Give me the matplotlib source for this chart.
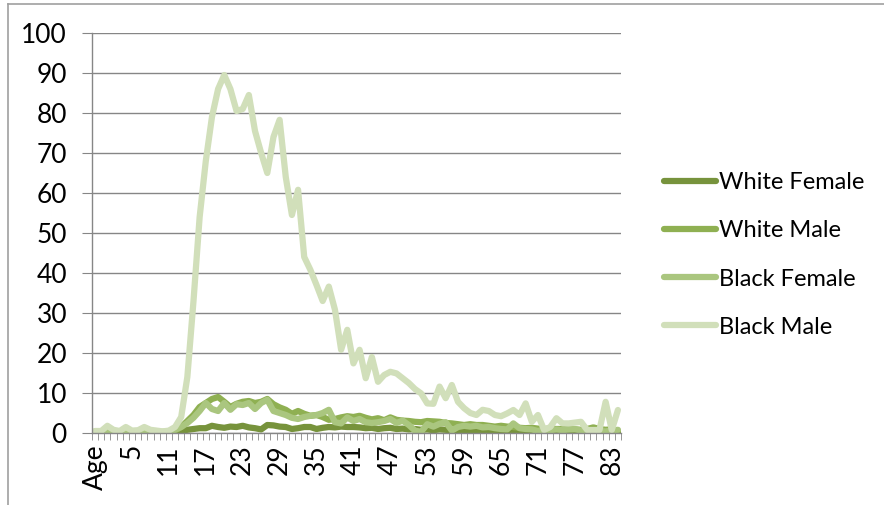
import numpy as np
from matplotlib import pyplot as plt
from matplotlib.lines import Line2D

plt.rcParams["font.family"] = ["Lato", "DejaVu Sans"]

# categories: the "Age" header row followed by ages 0..84
categories = ["Age"] + [str(a) for a in range(85)]

white_female = [0.2, 0.0, 0.1, 0.0, 0.2, 0.0, 0.1, 0.0, 0.1, 0.0, 0.2, 0.1, 0.2,
                0.3, 0.5, 0.8, 1.0, 1.2, 1.2, 1.8, 1.5, 1.3, 1.6, 1.5, 1.8, 1.4,
                1.2, 0.9, 2.0, 1.9, 1.6, 1.5, 1.0, 1.2, 1.5, 1.5, 1.0, 1.3, 1.5,
                1.4, 1.6, 1.5, 1.5, 1.4, 1.2, 1.3, 1.0, 1.2, 1.3, 1.0, 1.1, 0.9,
                1.0, 0.8, 0.9, 0.7, 0.9, 0.8, 0.6, 0.8, 0.6, 0.7, 0.5, 0.6, 0.5,
                0.6, 0.4, 0.5, 0.4, 0.5, 0.3, 0.4, 0.3, 0.4, 0.3, 0.3, 0.4, 0.3,
                0.2, 0.3, 0.2, 0.3, 0.2, 0.3, 0.2, 0.2]

white_male = [0.2, 0.1, 0.3, 0.2, 0.1, 0.3, 0.2, 0.1, 0.2, 0.3, 0.2, 0.2, 0.3,
              0.6, 1.5, 3.0, 4.5, 6.5, 7.5, 8.5, 9.0, 7.8, 6.5, 7.3, 7.8, 8.0,
              7.5, 7.8, 8.5, 7.2, 6.4, 5.8, 4.8, 5.5, 4.8, 4.3, 4.5, 4.0, 3.3,
              3.5, 3.9, 4.2, 4.0, 4.3, 3.8, 3.4, 3.7, 3.2, 3.9, 3.3, 3.1, 3.0,
              2.8, 2.7, 3.0, 2.9, 2.8, 2.5, 2.4, 2.2, 2.0, 2.2, 2.0, 2.0, 1.8,
              1.6, 1.8, 1.6, 1.5, 1.3, 1.2, 1.3, 1.1, 1.0, 1.1, 1.0, 1.0, 0.9,
              0.9, 0.8, 1.0, 1.4, 1.0, 0.8, 0.9, 0.6]

black_female = [0.4, 0.2, 0.8, 0.3, 0.2, 0.6, 0.3, 0.2, 0.5, 0.3, 0.2, 0.3, 0.4,
                0.8, 1.5, 2.5, 3.8, 5.5, 7.5, 6.0, 5.5, 7.5, 5.8, 7.2, 7.0, 7.5,
                6.0, 7.5, 8.3, 5.5, 5.0, 4.5, 3.8, 3.5, 4.0, 4.3, 4.5, 5.0, 5.8,
                2.7, 2.4, 3.9, 3.0, 3.5, 2.7, 2.5, 2.7, 3.0, 3.5, 2.5, 3.1, 2.0,
                0.6, 0.3, 2.2, 1.6, 2.3, 2.7, 0.6, 1.5, 1.8, 1.6, 1.8, 1.4, 1.5,
                1.2, 1.0, 0.9, 2.4, 1.2, 1.0, 0.9, 0.5, 0.8, 0.7, 0.9, 0.7, 0.9,
                1.0, 0.6, 0.5, 0.6, 0.5, 0.4, 0.6, 0.8]

black_male = [0.5, 0.5, 1.8, 0.8, 0.5, 1.5, 0.6, 0.7, 1.5, 0.8, 0.6, 0.4, 0.6,
              1.5, 4.0, 14.0, 33.0, 54.0, 68.0, 79.0, 86.0, 89.5, 86.0, 80.5,
              81.0, 84.5, 75.5, 70.0, 65.0, 74.0, 78.3, 64.0, 54.5, 60.8, 44.0,
              40.8, 37.0, 33.0, 36.6, 30.8, 20.8, 25.8, 17.4, 20.8, 13.7, 19.0,
              12.8, 14.5, 15.3, 14.9, 13.7, 12.5, 11.0, 9.9, 7.4, 7.3, 11.6,
              8.7, 12.0, 7.8, 6.2, 5.0, 4.5, 5.8, 5.5, 4.5, 4.2, 4.9, 5.75, 4.5,
              7.4, 2.8, 4.5, 0.75, 1.5, 3.7, 2.4, 2.4, 2.6, 2.8, 0.75, 0.75,
              0.75, 7.8, 0.75, 5.75]

series = [("White Female", white_female, "#77933c"),
          ("White Male", white_male, "#8fb052"),
          ("Black Female", black_female, "#aac67f"),
          ("Black Male", black_male, "#d1dfba")]

grey = "#868686"
fs = 17
fig = plt.figure(figsize=(8.84, 5.05), dpi=100)
ax = fig.add_axes([92 / 884, 72 / 505, 529 / 884, 400 / 505])

x = np.arange(len(categories))
for name, vals, col in series:
    ax.plot(x, vals, color=col, lw=4.5, label=name,
            solid_capstyle="round", solid_joinstyle="round")

ax.set_xlim(-0.5, len(categories) - 0.5)
ax.set_ylim(0, 100)
ax.set_yticks(range(0, 101, 10))
ax.yaxis.grid(True, color=grey, lw=1)
ax.set_axisbelow(True)

ax.set_xticks(x[::6])
ax.set_xticklabels(categories[::6], rotation=90)
ax.set_xticks(np.arange(len(categories) + 1) - 0.5, minor=True)
ax.tick_params(axis="x", which="major", length=0, pad=8, labelsize=19)
ax.tick_params(axis="x", which="minor", length=5, color=grey)
ax.tick_params(axis="y", length=7, color=grey, pad=11, labelsize=19)

for side in ["top", "right"]:
    ax.spines[side].set_visible(False)
for side in ["left", "bottom"]:
    ax.spines[side].set_color(grey)
    ax.spines[side].set_linewidth(1)

leg = ax.legend(loc="center left", bbox_to_anchor=(643 / 884, 1 - 255 / 505),
                bbox_transform=fig.transFigure, frameon=False, fontsize=fs,
                handlelength=2.2, handletextpad=0.1, labelspacing=1.15)
for h in leg.get_lines():
    h.set_linewidth(4.5)

# outer chart border
fig.add_artist(Line2D([8 / 884, 8 / 884], [0, 1 - 4 / 505], color="#a0a0a0", lw=1.2))
fig.add_artist(Line2D([8 / 884, 1], [1 - 4 / 505, 1 - 4 / 505], color="#a0a0a0", lw=1.2))

fig.savefig("out.png", dpi=100)
